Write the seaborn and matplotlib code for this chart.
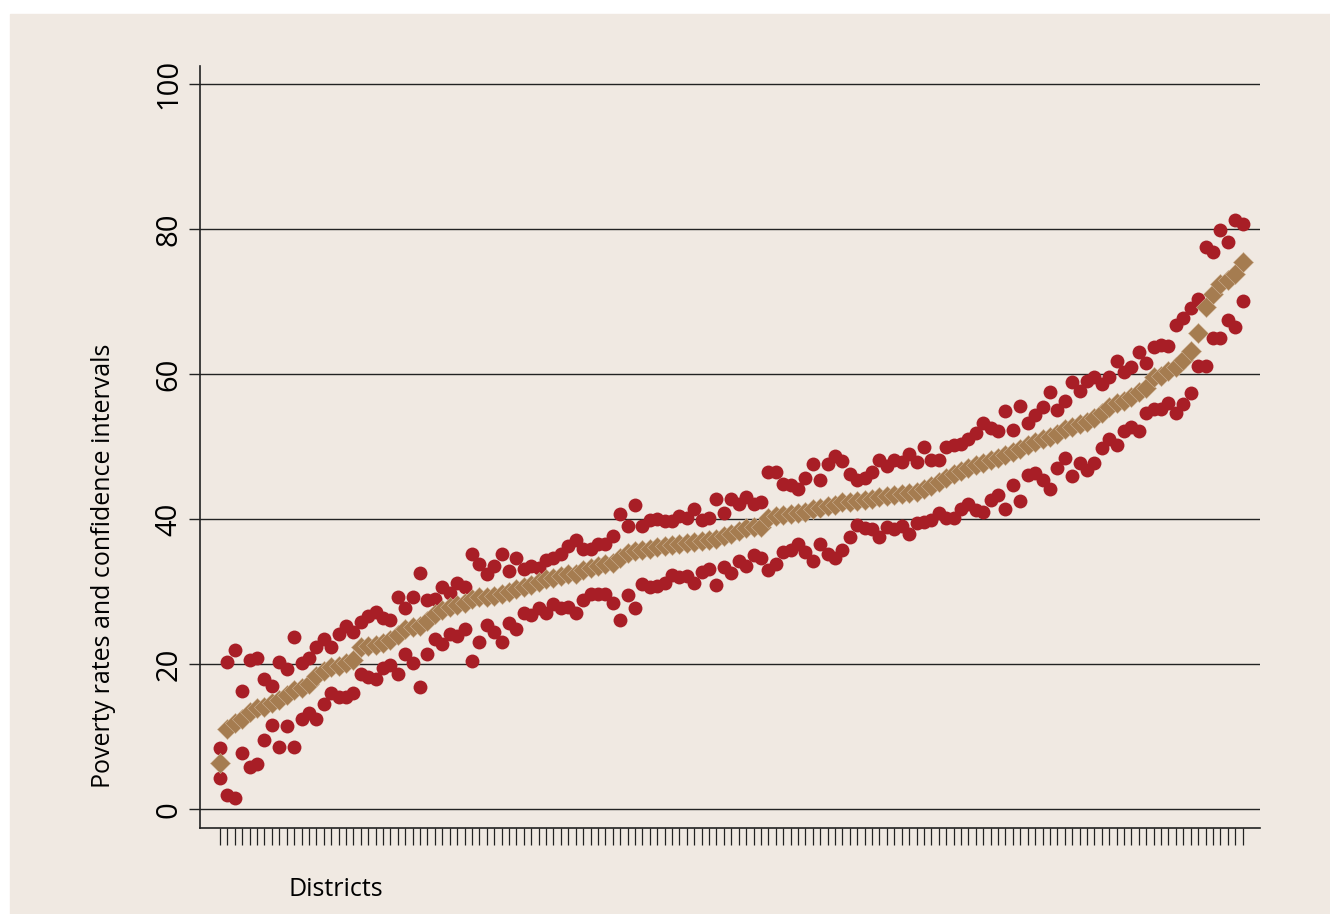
import numpy as np
import pandas as pd
import matplotlib
matplotlib.use('Agg')
import matplotlib.pyplot as plt
from matplotlib.patches import Rectangle
import seaborn as sns

# %% Data (districts sorted by poverty rate)
rate = [6.4, 11.1, 11.9, 12.5, 13.4, 13.9, 14.1, 14.6, 15.1, 15.8,
        16.5, 16.7, 17.3, 18.4, 19.1, 19.6, 19.7, 20.2, 20.6, 22.3,
        22.5, 22.7, 22.9, 23.3, 24.0, 24.8, 25.1, 25.3, 26.0, 26.9,
        27.5, 27.9, 28.1, 28.4, 29.0, 29.2, 29.3, 29.4, 29.7, 30.0,
        30.3, 30.7, 30.9, 31.3, 31.7, 31.9, 32.2, 32.4, 32.5, 33.0,
        33.3, 33.6, 33.8, 33.9, 34.6, 35.3, 35.6, 35.8, 35.9, 36.2,
        36.3, 36.5, 36.6, 36.7, 36.8, 37.0, 37.1, 37.3, 37.7, 38.0,
        38.4, 38.8, 38.9, 38.9, 40.2, 40.4, 40.6, 40.7, 40.8, 41.0,
        41.4, 41.6, 41.8, 42.0, 42.3, 42.4, 42.5, 42.6, 42.8, 43.0,
        43.2, 43.3, 43.5, 43.6, 43.8, 44.2, 44.6, 45.1, 45.7, 46.2,
        46.7, 47.1, 47.4, 47.8, 48.1, 48.5, 48.8, 49.2, 49.7, 50.2,
        50.7, 51.0, 51.3, 51.8, 52.5, 52.7, 53.1, 53.4, 53.9, 54.6,
        55.4, 56.0, 56.3, 56.8, 57.5, 58.1, 59.6, 59.7, 60.4, 61.0,
        62.0, 63.2, 65.7, 69.2, 71.0, 72.5, 73.0, 73.8, 75.4]

upper = [8.5, 20.3, 22.0, 16.3, 20.6, 20.9, 18.0, 17.0, 20.3, 19.3,
         23.8, 20.2, 20.9, 22.4, 23.4, 22.4, 24.1, 25.2, 24.5, 25.8,
         26.6, 27.2, 26.4, 26.1, 29.2, 27.8, 29.2, 32.6, 28.9, 29.0,
         30.6, 29.8, 31.2, 30.6, 35.2, 33.8, 32.4, 33.5, 35.2, 32.8,
         34.6, 33.1, 33.5, 33.3, 34.3, 34.6, 35.2, 36.3, 37.1, 35.9,
         35.9, 36.6, 36.6, 37.7, 40.7, 39.0, 41.9, 39.0, 39.9, 40.0,
         39.7, 39.7, 40.4, 40.2, 41.4, 39.9, 40.1, 42.8, 40.8, 42.8,
         42.1, 43.0, 42.1, 42.4, 46.5, 46.5, 44.9, 44.7, 44.1, 45.7,
         47.6, 45.4, 47.6, 48.7, 48.0, 46.2, 45.4, 45.7, 46.5, 48.1,
         47.3, 48.1, 47.9, 49.0, 47.9, 49.9, 48.2, 48.1, 49.9, 50.2,
         50.4, 51.1, 51.9, 53.2, 52.6, 52.2, 54.9, 52.3, 55.6, 53.3,
         54.3, 55.5, 57.6, 55.1, 56.3, 58.9, 57.7, 59.0, 59.6, 58.7,
         59.6, 61.8, 60.3, 61.0, 63.0, 61.5, 63.8, 64.0, 63.9, 66.8,
         67.7, 69.1, 70.3, 77.5, 76.8, 79.9, 78.2, 81.2, 80.7]

lower = [4.3, 1.9, 1.6, 7.8, 5.8, 6.2, 9.5, 11.6, 8.6, 11.4,
         8.6, 12.4, 13.2, 12.5, 14.5, 16.0, 15.4, 15.4, 16.0, 18.7,
         18.2, 18.0, 19.4, 19.9, 18.7, 21.4, 20.2, 16.9, 21.4, 23.4,
         22.8, 24.2, 23.9, 24.8, 20.4, 23.1, 25.4, 24.5, 23.1, 25.7,
         24.9, 27.1, 26.8, 27.8, 27.1, 28.3, 27.7, 27.9, 27.0, 28.9,
         29.7, 29.7, 29.7, 28.5, 26.1, 29.5, 27.7, 31.0, 30.6, 30.8,
         31.2, 32.3, 32.0, 32.1, 31.2, 32.7, 33.1, 30.9, 33.4, 32.6,
         34.2, 33.5, 35.0, 34.6, 33.0, 33.8, 35.4, 35.8, 36.6, 35.4,
         34.2, 36.6, 35.2, 34.6, 35.7, 37.5, 39.2, 38.8, 38.7, 37.5,
         38.9, 38.6, 39.0, 38.0, 39.4, 39.6, 39.9, 40.8, 40.1, 40.1,
         41.4, 42.1, 41.2, 41.0, 42.6, 43.3, 41.4, 44.7, 42.5, 46.1,
         46.4, 45.4, 44.2, 47.0, 48.5, 45.9, 47.8, 46.8, 47.7, 49.8,
         51.1, 50.2, 52.2, 52.7, 52.2, 54.6, 55.2, 55.2, 56.0, 54.6,
         55.9, 57.4, 61.1, 61.1, 65.0, 65.0, 67.4, 66.5, 70.1]

y_ticks = [0, 20, 40, 60, 80, 100]

# %% Frames
df = pd.DataFrame({'district': np.arange(len(rate)), 'rate': rate,
                   'upper': upper, 'lower': lower})
ci = df.melt(id_vars='district', value_vars=['upper', 'lower'],
             var_name='bound', value_name='value')

# %% Plot
sns.set_style('white')
plt.rcParams['font.family'] = ['Open Sans', 'DejaVu Sans']

bg = '#F0E9E2'
red = '#A81E26'
brown = '#A57C50'
ink = '#222222'

fig = plt.figure(figsize=(13.3, 9.14), dpi=100)
fig.patch.set_facecolor('white')
fig.patches.append(Rectangle((10 / 1330, 0), 1, 1 - 14 / 914,
                             transform=fig.transFigure, color=bg, zorder=-10))

ax = fig.add_axes([200 / 1330, 1 - 828 / 914, 1060 / 1330, 762 / 914])
ax.set_facecolor('none')

sns.scatterplot(data=ci, x='district', y='value', color=red, s=100,
                linewidth=0, legend=False, ax=ax, zorder=3)
sns.scatterplot(data=df, x='district', y='rate', marker='D', color=brown,
                s=105, linewidth=0.4, edgecolor='#CDB295', legend=False,
                ax=ax, zorder=4)

ax.set_xlim(-2.7, 140.35)
ax.set_ylim(-2.6, 102.5)

ax.set_yticks(y_ticks)
ax.set_yticklabels([str(t) for t in y_ticks], rotation=90, va='center',
                   fontsize=21)
ax.yaxis.grid(True, color=ink, linewidth=1.0)
ax.set_axisbelow(True)
ax.tick_params(axis='y', left=True, length=8, width=1.0, color=ink, pad=4,
               labelcolor='black')

ax.set_xticks(df['district'])
ax.set_xticklabels([])
ax.tick_params(axis='x', bottom=True, length=12, width=0.9, color=ink)

for side in ['top', 'right']:
    ax.spines[side].set_visible(False)
for side in ['left', 'bottom']:
    ax.spines[side].set_color(ink)
    ax.spines[side].set_linewidth(1.2)

ax.set_xlabel('')
ax.set_ylabel('')
fig.text(103 / 1330, 1 - 566 / 914, 'Poverty rates and confidence intervals',
         rotation=90, ha='center', va='center', fontsize=18, color='black')
fig.text(336 / 1330, 1 - 890 / 914, 'Districts', ha='center', va='center',
         fontsize=18, color='black')

fig.savefig('out.png', dpi=100, facecolor=fig.get_facecolor())
